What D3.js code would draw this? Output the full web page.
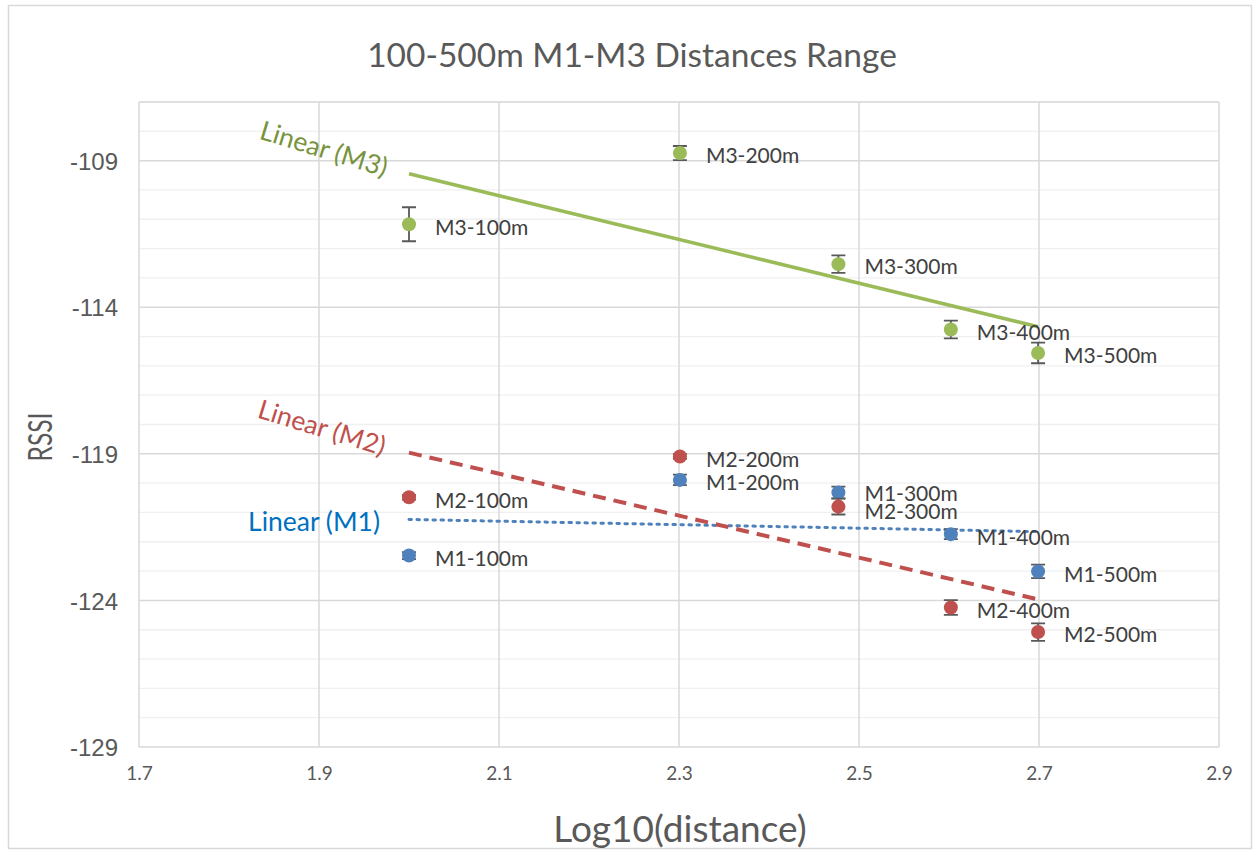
<!DOCTYPE html>
<html>
<head>
<meta charset="utf-8">
<script src="https://cdn.jsdelivr.net/npm/d3@7"></script>
<style>
  body { margin: 0; background: #fff; }
  text { font-family: Lato, "Open Sans", sans-serif; }
</style>
</head>
<body>
<svg id="chart" width="1254" height="851"></svg>
<script>
// data
const distances = [100, 200, 300, 400, 500];
const m1 = [-122.47, -119.89, -120.32, -121.74, -123.01];
const m2 = [-120.48, -119.09, -120.80, -124.24, -125.08];
const m3 = [-111.17, -108.74, -112.53, -114.76, -115.56];
const m1Err = [0.12, 0.18, 0.20, 0.17, 0.23];
const m2Err = [0.08, 0.08, 0.27, 0.25, 0.30];
const m3Err = [0.58, 0.24, 0.30, 0.30, 0.35];
const xTicks = [1.7, 1.9, 2.1, 2.3, 2.5, 2.7, 2.9];
const yTicks = [-129, -124, -119, -114, -109];

const W = 1254, H = 851;
const margin = { left: 139, right: 1219, top: 102, bottom: 747 };

const svg = d3.select("#chart");

// outer chart border
svg.append("rect")
  .attr("x", 8.5).attr("y", 5.5)
  .attr("width", W - 11).attr("height", H - 8)
  .attr("fill", "#fff")
  .attr("stroke", "#d9d9d9")
  .attr("stroke-width", 1.5);

const x = d3.scaleLinear().domain([1.7, 2.9]).range([margin.left, margin.right]);
const y = d3.scaleLinear().domain([-129, -107]).range([margin.bottom, margin.top]);

const grid = svg.append("g");

// minor horizontal gridlines
grid.selectAll("line.minor")
  .data(d3.range(-128, -106, 1).filter(v => !yTicks.includes(v)))
  .enter().append("line")
  .attr("class", "minor")
  .attr("x1", margin.left).attr("x2", margin.right)
  .attr("y1", d => y(d)).attr("y2", d => y(d))
  .attr("stroke", "#f0f0f0").attr("stroke-width", 1.3);

// major horizontal gridlines
grid.selectAll("line.major")
  .data(yTicks)
  .enter().append("line")
  .attr("class", "major")
  .attr("x1", margin.left).attr("x2", margin.right)
  .attr("y1", d => y(d)).attr("y2", d => y(d))
  .attr("stroke", "#d9d9d9").attr("stroke-width", 1.5);

// vertical gridlines
grid.selectAll("line.vert")
  .data(xTicks)
  .enter().append("line")
  .attr("class", "vert")
  .attr("x1", d => x(d)).attr("x2", d => x(d))
  .attr("y1", margin.top).attr("y2", margin.bottom)
  .attr("stroke", "#d9d9d9").attr("stroke-width", 1.5);

// top border of plot area
grid.append("line")
  .attr("x1", margin.left).attr("x2", margin.right)
  .attr("y1", margin.top).attr("y2", margin.top)
  .attr("stroke", "#d9d9d9").attr("stroke-width", 1.5);

// axes labels via d3 axes
const yAxis = svg.append("g")
  .attr("transform", `translate(${margin.left},0)`)
  .call(d3.axisLeft(y).tickValues(yTicks).tickSize(0).tickPadding(21).tickFormat(d => String(d)));
yAxis.select(".domain").remove();
yAxis.selectAll("text")
  .style("font-family", "'Liberation Sans', Arial, sans-serif")
  .style("font-size", "24px")
  .attr("fill", "#595959")
  .attr("dy", "0.36em");

const xAxis = svg.append("g")
  .attr("transform", `translate(0,${margin.bottom})`)
  .call(d3.axisBottom(x).tickValues(xTicks).tickSize(0).tickPadding(20).tickFormat(d3.format(".1f")));
xAxis.select(".domain").remove();
xAxis.selectAll("text")
  .style("font-size", "19px")
  .attr("fill", "#595959");

// titles
svg.append("text")
  .attr("x", 632).attr("y", 67)
  .attr("text-anchor", "middle")
  .attr("fill", "#595959")
  .style("font-size", "33.5px")
  .text("100-500m M1-M3 Distances Range");

svg.append("text")
  .attr("transform", "translate(52,437) rotate(-90)")
  .attr("text-anchor", "middle")
  .attr("fill", "#595959")
  .style("font-size", "32px")
  .attr("textLength", 49)
  .attr("lengthAdjust", "spacingAndGlyphs")
  .text("RSSI");

svg.append("text")
  .attr("x", 680).attr("y", 842)
  .attr("text-anchor", "middle")
  .attr("fill", "#595959")
  .style("font-size", "37px")
  .text("Log10(distance)");

const series = [
  { name: "M1", values: m1, err: m1Err, color: "#4f81bd", labelColor: "#0070c0", dash: "2.5,5.5", cap: "round", width: 3, labelOff: [-95, 2], rot: 0, lblDy: [0, 0, -2, 0, 0] },
  { name: "M2", values: m2, err: m2Err, color: "#c0504d", labelColor: "#c0504d", dash: "13,8", cap: "butt", width: 4, labelOff: [-87, -25], rot: 17, lblDy: [0, 0, 2, 0, 0] },
  { name: "M3", values: m3, err: m3Err, color: "#9bbb59", labelColor: "#77933c", dash: null, cap: "butt", width: 3.5, labelOff: [-85, -25], rot: 17, lblDy: [0, 0, 0, 0, 0] }
];

const lx = distances.map(d => Math.log10(d));

// least squares fit
function fit(xs, ys) {
  const mx = d3.mean(xs), my = d3.mean(ys);
  let sxy = 0, sxx = 0;
  xs.forEach((v, i) => { sxy += (v - mx) * (ys[i] - my); sxx += (v - mx) * (v - mx); });
  const b = sxy / sxx;
  return v => my + b * (v - mx);
}

const trendG = svg.append("g");
const pointG = svg.append("g");
const labelG = svg.append("g");

series.forEach(s => {
  const f = fit(lx, s.values);
  const x0 = d3.min(lx), x1 = d3.max(lx);
  trendG.append("line")
    .attr("x1", x(x0)).attr("y1", y(f(x0)))
    .attr("x2", x(x1)).attr("y2", y(f(x1)))
    .attr("stroke", s.color)
    .attr("stroke-width", s.width)
    .attr("stroke-linecap", s.cap)
    .attr("stroke-dasharray", s.dash);

  const sx = x(x0) + s.labelOff[0], sy = y(f(x0)) + s.labelOff[1];
  trendG.append("text")
    .attr("transform", `translate(${sx},${sy}) rotate(${s.rot})`)
    .attr("text-anchor", "middle")
    .attr("dy", "0.35em")
    .attr("fill", s.labelColor)
    .style("font-size", "26.5px")
    .text(`Linear (${s.name})`);
});

series.forEach(s => {
  const pts = lx.map((v, i) => ({ x: v, y: s.values[i], e: s.err[i], d: distances[i], dy: s.lblDy[i] }));
  const g = pointG.append("g");
  // error bars
  g.selectAll("path.err").data(pts).enter().append("path")
    .attr("d", p => {
      const cx = x(p.x), t = y(p.y + p.e), b = y(p.y - p.e);
      return `M${cx},${t}V${b}M${cx - 7},${t}H${cx + 7}M${cx - 7},${b}H${cx + 7}`;
    })
    .attr("stroke", "#595959").attr("stroke-width", 1.8).attr("fill", "none");
  g.selectAll("circle").data(pts).enter().append("circle")
    .attr("cx", p => x(p.x)).attr("cy", p => y(p.y))
    .attr("r", 7)
    .attr("fill", s.color);
  labelG.selectAll(null).data(pts).enter().append("text")
    .attr("x", p => x(p.x) + 26)
    .attr("y", p => y(p.y) + 3 + p.dy)
    .attr("dy", "0.35em")
    .attr("fill", "#404040")
    .style("font-size", "21px")
    .text(p => `${s.name}-${p.d}m`);
});
</script>
</body>
</html>
